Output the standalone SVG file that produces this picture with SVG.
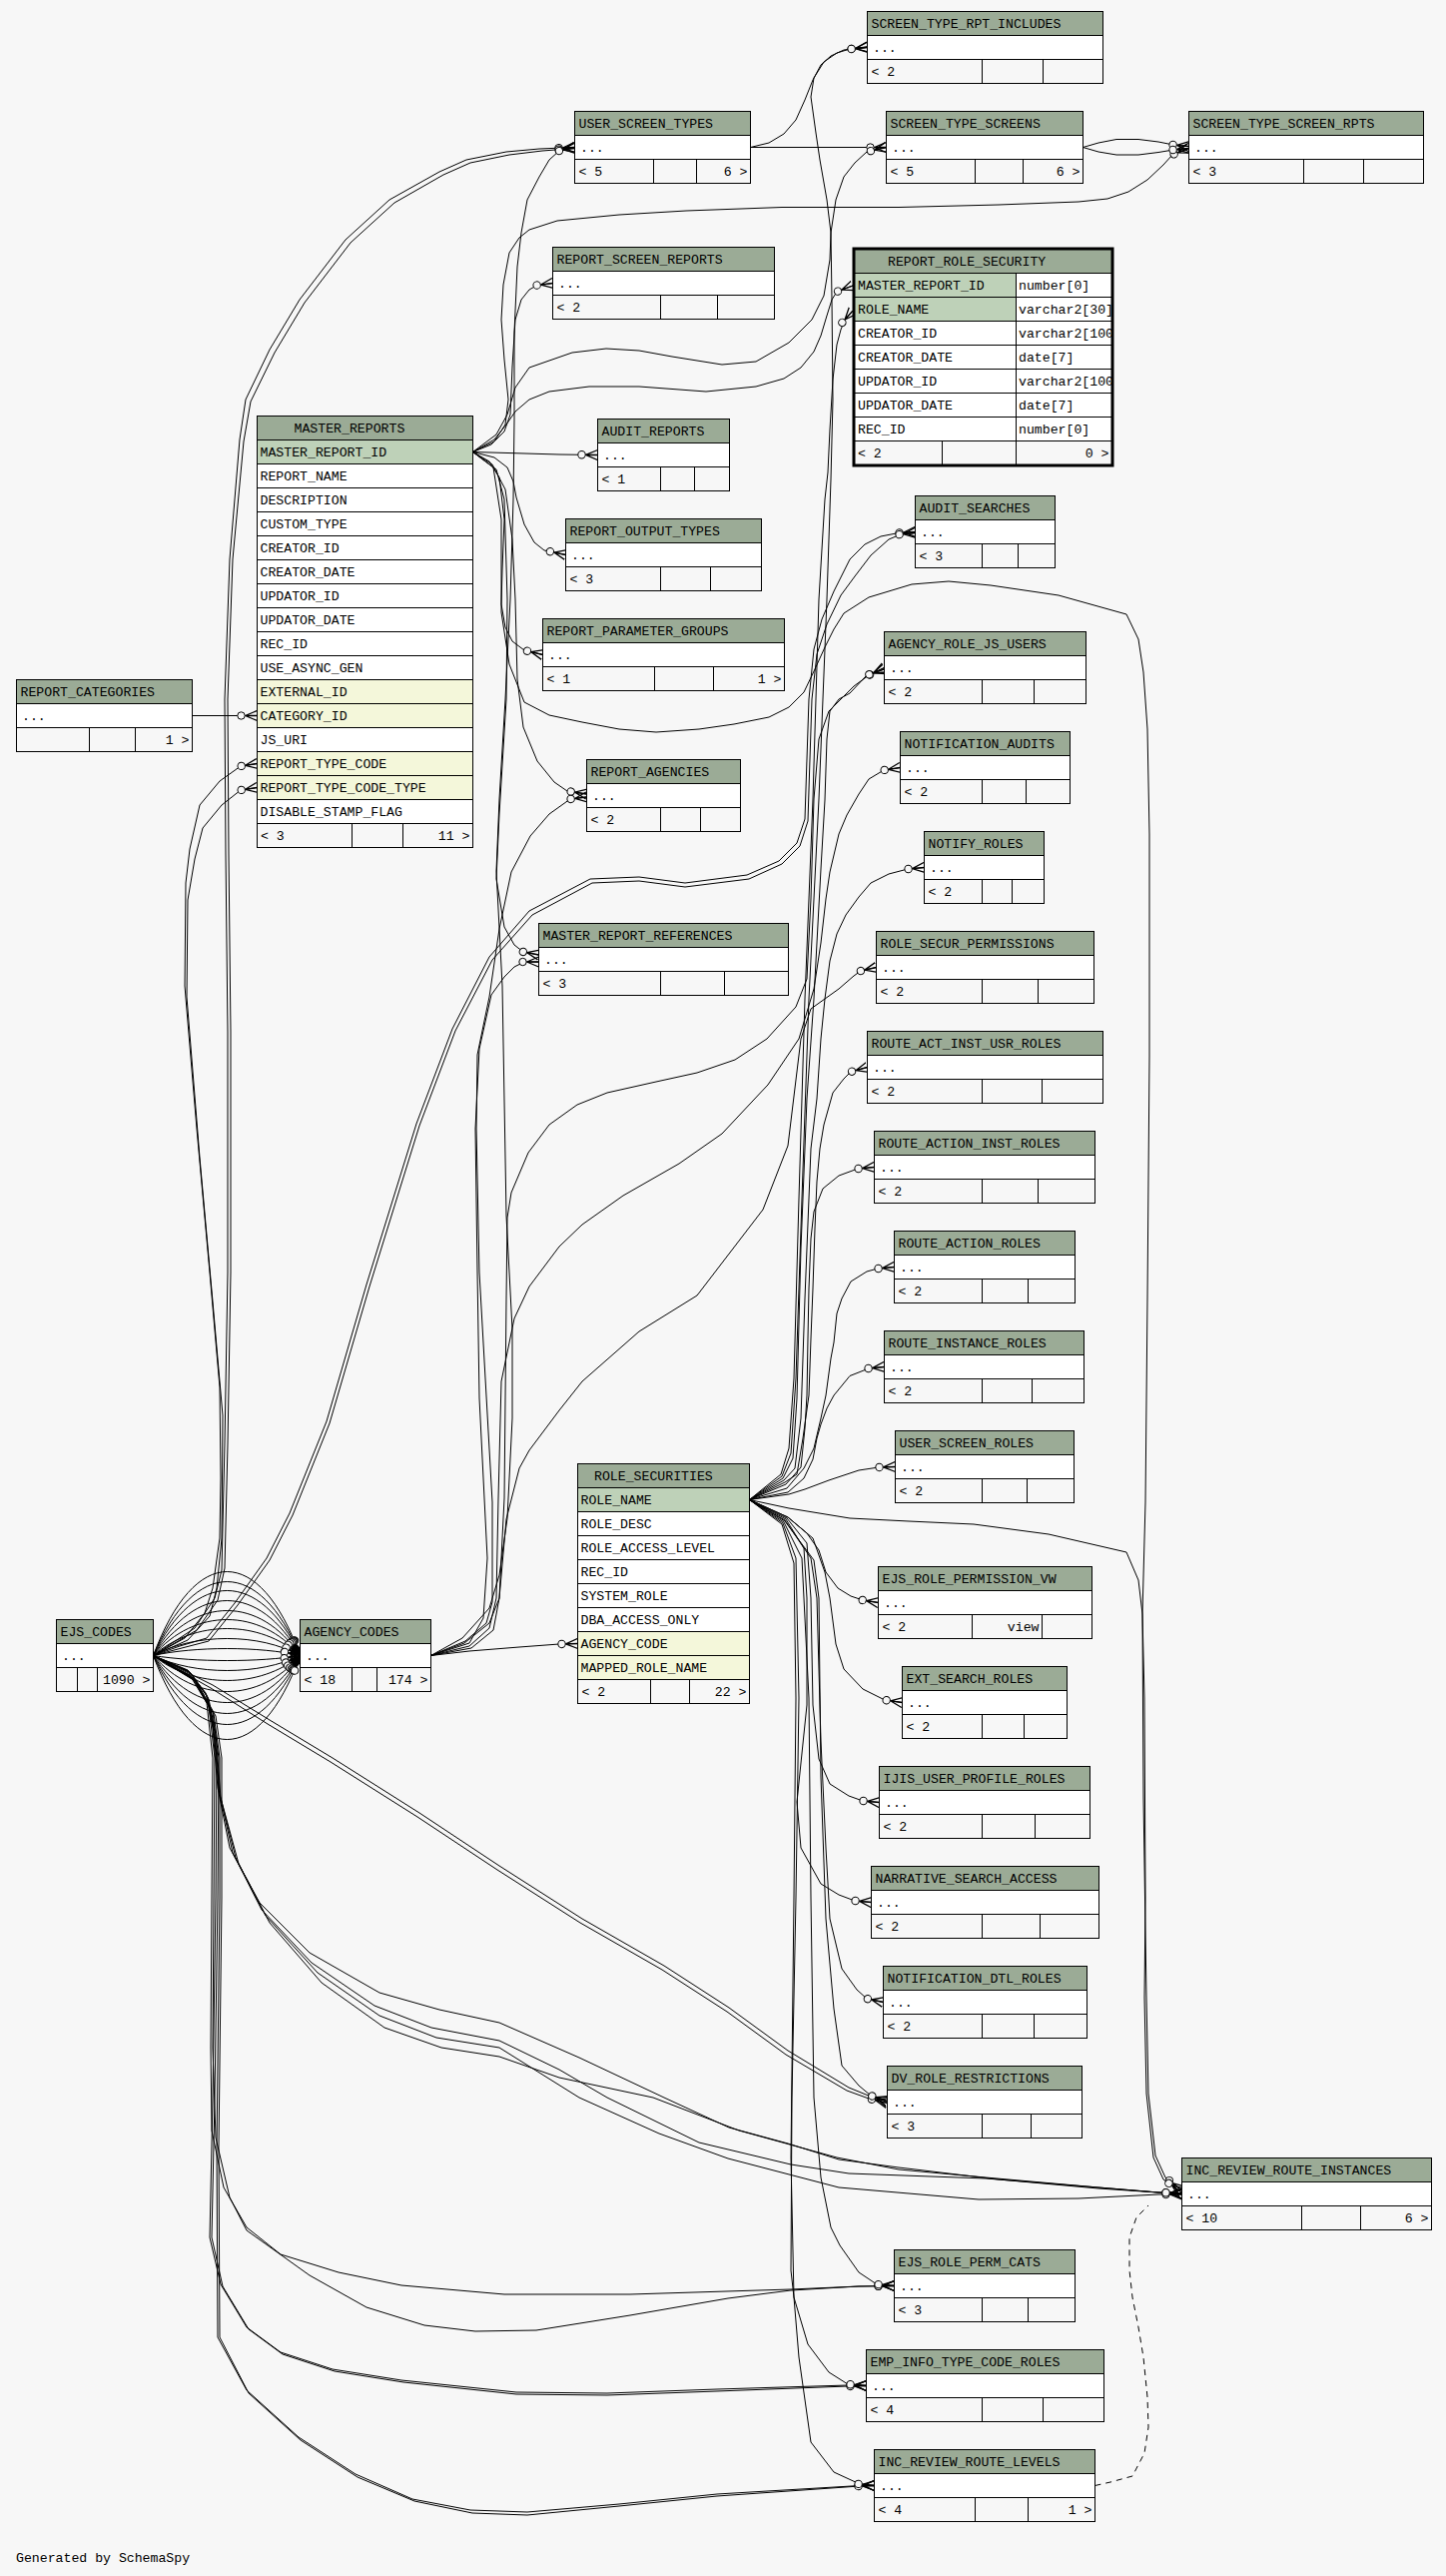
<svg xmlns="http://www.w3.org/2000/svg" width="1448" height="2579" viewBox="0 0 1448 2579">
<defs>
<style>
text{font-family:"Liberation Mono","DejaVu Sans Mono",monospace;font-size:13.2px;fill:#000}
.r{text-anchor:end}
.h{fill:#9bab96}
.w{fill:#fff}
.f{fill:#f7f7f7}
.pk{fill:#bed1b8}
.fk{fill:#f4f7da}
.b{fill:none;stroke:#000;stroke-width:1}
.l{fill:none;stroke:#000;stroke-width:1}
.e{fill:none;stroke:#000;stroke-width:1;marker-end:url(#cf)}
.d{fill:none;stroke:#000;stroke-width:1;stroke-dasharray:6,5}
</style>
<marker id="cf" viewBox="0 0 22 12" refX="22" refY="6" markerWidth="22" markerHeight="12" markerUnits="userSpaceOnUse" orient="auto">
<path d="M10,6L22,1M10,6L22,6M10,6L22,11" fill="none" stroke="#000" stroke-width="1.3"/>
<circle cx="6" cy="6" r="3.7" fill="#f7f7f7" stroke="#000" stroke-width="1"/>
</marker>
<clipPath id="rrsclip"><rect x="856" y="249" width="257.5" height="217"/></clipPath>
</defs>
<rect width="1448" height="2579" fill="#f7f7f7"/>
<g id="connectors">
<path class="e" d="M473.5,452.5L560,455L598.5,455.5"/>
<path class="e" d="M473.5,452.5L492,445L505,432L511,415L513,367L516,320L522,300L530,290L538,285.5L553.5,283.5"/>
<path class="e" d="M473.5,452.5L495,458L508,468L514,482L517,498L525,525L535,543L545,551L566.5,555.5"/>
<path class="e" d="M473.5,452.5L490,462L500,478L505,520L503,570L502,605L506,628L513,642L525,651L543.5,655.5"/>
<path class="e" d="M473.5,452.5L493,465L506,490L513,540L516,600L518,680L524,728L538,762L555,783L568,792L587.5,795"/>
<path class="e" d="M473.5,452.5L497,470L505,500L508,600L507,700L500,815L497,880L505,928L515,946L524,953L539.5,956"/>
<path class="e" d="M473.5,452.5L494,468L502,520L502,613L510,665L525,703L550,716L583,723L620,730L657,733L700,730L735,725L770,718L790,708L805,693L816,670L826,648L835,630L845,614L870,598L913,585L950,582L992,586L1060,596L1128,615L1140,640L1145,673L1149,730L1151,835L1151,1058L1149,1300L1147,1504L1144,1616L1145,1800L1148,2000L1150,2096L1157,2158L1167,2180L1183.5,2193"/>
<path class="e" d="M473.5,452.5L495,440L507,425L516,412L530,400L550,392L590,387L640,387L707,392L757,387L785,379L802,368L815,352L822,336L828,316L833,300L838,292L854,286"/>
<path class="e" d="M473.5,452.5L497,435L508,415L516,388L530,368L573,353L607,349L640,351L673,357L723,365L757,362L790,343L813,320L825,296L831,260L832,233L828,200L821,160L817,133L812,97L815,78L825,62L838,53L851,49L868.5,47.5"/>
<path class="e" d="M473.5,452.5L495,442L506,425L509,400L505,360L502,320L504,285L510,253L520,238L530,230L558,221L620,215L687,211L783,207.5L900,207.5L1000,205L1080,202L1109,199L1130,192L1149,180L1165,165L1174,155L1190.5,148.5"/>
<path class="e" d="M751.5,147.5L887.5,147.5"/>
<path class="e" d="M751.5,147.5L770,143L785,134L797,120L806,100L814,80L822,65L832,56L845,50L868.5,47"/>
<path class="e" d="M1084.5,147.5L1100,143L1118,139.5L1140,139.5L1160,142L1175,145L1190.5,146.5"/>
<path class="e" d="M1084.5,147.5L1100,152L1118,155L1140,155L1160,152.5L1175,150L1190.5,148.5"/>
<path class="e" d="M192.5,716.5L257.5,716.5"/>
<path class="e" d="M153.5,1657.5C195,1545.5 260,1545.5 300.5,1657.5"/>
<path class="e" d="M153.5,1657.5C195,1558.9 260,1558.9 300.5,1657.5"/>
<path class="e" d="M153.5,1657.5C195,1570.8 260,1570.8 300.5,1657.5"/>
<path class="e" d="M153.5,1657.5C195,1584.2 260,1584.2 300.5,1657.5"/>
<path class="e" d="M153.5,1657.5C195,1597.5 260,1597.5 300.5,1657.5"/>
<path class="e" d="M153.5,1657.5C195,1609.5 260,1609.5 300.5,1657.5"/>
<path class="e" d="M153.5,1657.5C195,1621.5 260,1621.5 300.5,1657.5"/>
<path class="e" d="M153.5,1657.5C195,1634.8 260,1634.8 300.5,1657.5"/>
<path class="e" d="M153.5,1657.5C195,1648.2 260,1648.2 300.5,1657.5"/>
<path class="e" d="M153.5,1657.5C195,1664.2 260,1664.2 300.5,1657.5"/>
<path class="e" d="M153.5,1657.5C195,1677.5 260,1677.5 300.5,1657.5"/>
<path class="e" d="M153.5,1657.5C195,1690.8 260,1690.8 300.5,1657.5"/>
<path class="e" d="M153.5,1657.5C195,1705.5 260,1705.5 300.5,1657.5"/>
<path class="e" d="M153.5,1657.5C195,1720.2 260,1720.2 300.5,1657.5"/>
<path class="e" d="M153.5,1657.5C195,1734.8 260,1734.8 300.5,1657.5"/>
<path class="e" d="M153.5,1657.5C195,1749.5 260,1749.5 300.5,1657.5"/>
<path class="e" d="M153.5,1657.5C195,1769.5 260,1769.5 300.5,1657.5"/>
<path class="e" d="M153.5,1657.5L185,1640L205,1615L213,1590L220,1540L221,1480L220,1389L210,1274L197,1130L185,987L186,884L190,850L200,806L220,782L241,767L257.5,764.5"/>
<path class="e" d="M153.5,1657.5L188,1642L210,1618L217,1590L222,1540L223,1417L213,1303L200,1159L187,998L188,901L195,860L203,829L222,806L241,791L257.5,788.5"/>
<path class="e" d="M153.5,1657.5L195,1630L215,1600L222,1572L225,1446L228,1274L228,1033L226,855L225,700L230,560L240,440L246,400L270,350L300,300L346,240L390,200L440,172L467,160L507,152L540,149L575.5,147.5"/>
<path class="e" d="M153.5,1657.5L197,1632L218,1602L225,1570L228,1446L231,1274L231,1033L229,855L228,700L233,560L244,442L251,402L275,353L305,303L351,243L395,203L444,175L471,163L510,155L543,151L575.5,148.5"/>
<path class="e" d="M153.5,1657.5L213,1687L270,1722L333,1760L420,1815L500,1868L583,1921L665,1968L730,2010L789,2053L850,2090L872,2099L888.5,2104"/>
<path class="e" d="M153.5,1657.5L211,1690L268,1726L331,1764L418,1819L498,1872L581,1925L663,1972L728,2014L787,2057L848,2093L870,2101L888.5,2105.5"/>
<path class="e" d="M153.5,1657.5L188,1672L206,1695L213,1730L218,1790L230,1850L260,1905L310,1955L380,1995L440,2012L500,2025L580,2060L665,2100L730,2130L789,2146L840,2162L900,2170L1000,2182L1100,2191L1160,2195L1183.5,2196"/>
<path class="e" d="M153.5,1657.5L189,1673L207,1697L214,1732L219,1792L233,1855L262,1912L312,1965L375,2008L432,2030L500,2043L560,2072L608,2100L700,2145L792,2167L850,2176L987,2181L1100,2190L1160,2195L1183.5,2196"/>
<path class="e" d="M153.5,1657.5L190,1674L208,1699L215,1734L220,1796L236,1860L266,1918L318,1975L380,2018L437,2040L500,2050L580,2100L660,2136L729,2161L840,2190L980,2202L1080,2201L1160,2197L1183.5,2197"/>
<path class="e" d="M153.5,1657.5L191,1675L209,1701L216,1736L221,1800L239,1866L270,1925L322,1985L385,2030L442,2050L500,2059L560,2080L654,2100L740,2133L838,2160L900,2172L987,2180L1100,2190L1160,2195L1183.5,2196"/>
<path class="e" d="M153.5,1657.5L190,1677L207,1705L213,1760L212,1900L211,2050L212,2133L224,2190L247,2230L281,2257L339,2275L402,2288L505,2297L631,2297L792,2292L860,2289L895.5,2288.5"/>
<path class="e" d="M153.5,1657.5L192,1679L209,1708L215,1760L214,1900L213,2050L216,2140L230,2200L247,2233L310,2278L367,2310L425,2328L476,2334L537,2333L631,2318L729,2301L792,2293L860,2289L895.5,2288.5"/>
<path class="e" d="M153.5,1657.5L194,1681L211,1712L217,1760L216,1900L213,2100L210,2240L221,2287L247,2330L281,2355L333,2372L402,2383L517,2395L608,2396L718,2392L849,2388L867.5,2388.5"/>
<path class="e" d="M153.5,1657.5L195,1682L213,1714L219,1760L218,1900L215,2100L212,2240L223,2289L249,2332L283,2357L335,2374L404,2385L517,2397L608,2398L718,2394L849,2389L867.5,2388.5"/>
<path class="e" d="M153.5,1657.5L196,1683L214,1716L220,1760L220,1900L217,2150L218,2340L247,2393L299,2440L356,2477L413,2502L471,2513L528,2515L620,2507L718,2497L861,2488.5L875.5,2488.5"/>
<path class="e" d="M153.5,1657.5L197,1684L216,1718L222,1760L222,1900L219,2150L220,2340L249,2396L301,2443L358,2480L415,2504L473,2516L528,2518L620,2509L718,2499L861,2489L875.5,2488.5"/>
<path class="e" d="M153.5,1657.5L180,1648L207,1640L235,1605L267,1560L290,1515L327,1423L367,1286L417,1125L453,1030L490,958L530,912L591,880L640,878L686,884L748,876L780,862L798,844L806,820L808,760L810,700L815,650L823,620L835,592L851,560L866,545L882,537L900,533.5L916.5,532.5"/>
<path class="e" d="M153.5,1657.5L182,1650L209,1643L238,1607L270,1562L293,1517L330,1425L370,1288L420,1127L456,1032L493,961L533,916L593,884L640,882L686,888L750,880L783,865L801,847L809,822L811,760L813,700L818,655L828,625L842,596L856,577L872,556L890,540L902,535L916.5,533.5"/>
<path class="e" d="M431.5,1657.5L470,1653L520,1649L560,1646L578.5,1645.5"/>
<path class="e" d="M431.5,1657.5L463,1640L490,1610L500,1577L508,1520L513,1420L513,1331L507,1217L503,987L497,872L500,800L506,700L511,600L514,500L515,420L515,333L518,267L522,233L528,200L540,177L550,160L560,151L575.5,147.5"/>
<path class="e" d="M431.5,1657.5L466,1643L487,1625L493,1604L493,1504L480,1274L477,1130L478,1056L490,998L500,930L512,873L531,837L550,815L571,800L587.5,798"/>
<path class="e" d="M431.5,1657.5L470,1645L484,1620L488,1560L480,1400L478,1274L476,1130L480,1050L492,996L505,978L515,968L525,963L539.5,963"/>
<path class="e" d="M431.5,1657.5L465,1645L490,1625L500,1600L505,1500L507,1300L508,1219L512,1194L529,1154L550,1126L578,1106L608,1094L657,1083L698,1074L736,1061L768,1040L797,1008L808,980L812,900L815,800L820,740L830,712L855,687L870,676L885.5,668.5"/>
<path class="e" d="M431.5,1657.5L470,1648L490,1630L497,1600L499,1500L502,1383L515,1320L530,1288L560,1248L583,1226L624,1197L680,1165L723,1135L769,1086L800,1040L815,990L822,944L827,900L831,873L840,835L848,816L860,795L870,780L885,771L901.5,768.5"/>
<path class="e" d="M431.5,1657.5L472,1650L494,1632L500,1600L507,1521L520,1470L530,1452L560,1412L583,1383L640,1333L698,1297L731,1254L764,1211L789,1147L802,1040L812,1010L826,1000L840,990L855,977L862,972L877.5,968.5"/>
<path class="e" d="M750.5,1501.5L790,1496L806,1491L830,1482L860,1472L880,1469L896.5,1468.5"/>
<path class="e" d="M750.5,1501.5L789,1494L805,1480L814,1461L818,1440L822,1426L828,1410L835,1397L851,1377.5L870,1370L885.5,1368.5"/>
<path class="e" d="M750.5,1501.5L788,1490L805,1470L815,1450L822,1420L827,1397L832,1360L835,1344L838,1315L843,1300L852,1283L868,1273L879,1270L895.5,1268.5"/>
<path class="e" d="M750.5,1501.5L787,1486L802,1469L806,1430L808,1397L809,1340L810,1290L812,1240L815,1213L824,1190L840,1177L859,1170L875.5,1168.5"/>
<path class="e" d="M750.5,1501.5L786,1484L798,1476L804,1440L810,1397L812,1340L814,1290L816,1230L818,1183L821,1150L825,1126L834,1094L845,1080L852,1073L868.5,1068.5"/>
<path class="e" d="M750.5,1501.5L785,1482L796,1470L802,1420L806,1300L812,1150L818,1100L822,1040L826,1000L831,962L838,935L847,916L860,898L872,884L890,875L909,870L925.5,868.5"/>
<path class="e" d="M750.5,1501.5L784,1480L794,1460L798,1400L802,1250L808,1100L815,1000L818,944L822,870L826,801L828,740L831,712L840,700L851,694L868,676L885.5,670"/>
<path class="e" d="M750.5,1501.5L783,1478L792,1455L797,1380L803,1200L810,1000L820,800L828,600L832,480L834,400L833,300L832,233L837,200L845,177L856,163L868,152L887.5,147.5"/>
<path class="e" d="M750.5,1501.5L782,1476L790,1450L795,1380L800,1200L806,1000L814,800L820,600L826,500L829,473L831,430L834,380L838,345L842,330L846,320L854,311"/>
<path class="e" d="M750.5,1501.5L789,1519L808,1535L820,1552L827,1574L839,1590L852,1598L864,1602L879.5,1604.5"/>
<path class="e" d="M750.5,1501.5L789,1519L814,1540L826,1574L831,1600L837,1646L845,1671L864,1691L886,1702L903.5,1704.5"/>
<path class="e" d="M750.5,1501.5L788,1520L808,1545L812,1600L814,1707L820,1761L831,1786L850,1798L864,1803L880.5,1804.5"/>
<path class="e" d="M750.5,1501.5L787,1521L805,1550L808,1600L808,1707L798,1804L802,1850L822,1886L840,1897L856,1903L872.5,1904.5"/>
<path class="e" d="M750.5,1501.5L786,1522L812,1560L818,1600L822,1743L827,1850L831,1921L843,1971L858,1992L868,2001L884.5,2004.5"/>
<path class="e" d="M750.5,1501.5L786,1523L815,1562L820,1600L822,1779L827,1921L835,2011L843,2068L860,2088L872,2098L888.5,2103.5"/>
<path class="e" d="M750.5,1501.5L785,1524L803,1560L810,1700L812,1900L815,2100L822,2180L832,2230L841,2248L860,2275L878,2287L895.5,2288.5"/>
<path class="e" d="M750.5,1501.5L784,1525L797,1560L800,1700L797,1900L793,2100L792,2273L795,2300L809,2347L830,2375L849,2387L867.5,2388.5"/>
<path class="e" d="M750.5,1501.5L783,1526L795,1565L797,1700L795,1900L792,2160L795,2300L800,2360L812,2445L835,2475L861,2487L875.5,2488.5"/>
<path class="e" d="M750.5,1501.5L790,1510L851,1520L910,1523L975,1526L1050,1536L1128,1554L1140,1582L1144,1616L1146,1700L1147,1900L1146,2000L1148,2096L1155,2160L1165,2182L1183.5,2195"/>
<path class="d" d="M1096.5,2488.5L1112,2485L1134,2479L1146,2456L1150,2430L1149,2400L1145,2360L1140,2330L1134,2300L1131,2273L1131,2240L1138,2220L1150,2208"/>
</g>
<g id="SCREEN_TYPE_RPT_INCLUDES"><rect class="h" x="868.5" y="11.5" width="236" height="24"/><rect class="w" x="868.5" y="35.5" width="236" height="24"/><rect class="f" x="868.5" y="59.5" width="236" height="24"/><path class="l" d="M868.5,35.5H1104.5M868.5,59.5H1104.5M983.5,59.5V83.5M1044.5,59.5V83.5"/><rect class="b" x="868.5" y="11.5" width="236" height="72"/><text x="872.5" y="27.5">SCREEN_TYPE_RPT_INCLUDES</text><text x="874" y="51.5">...</text><text x="872.5" y="75.5">&lt; 2</text></g>
<g id="USER_SCREEN_TYPES"><rect class="h" x="575.5" y="111.5" width="176" height="24"/><rect class="w" x="575.5" y="135.5" width="176" height="24"/><rect class="f" x="575.5" y="159.5" width="176" height="24"/><path class="l" d="M575.5,135.5H751.5M575.5,159.5H751.5M654.5,159.5V183.5M697.5,159.5V183.5"/><rect class="b" x="575.5" y="111.5" width="176" height="72"/><text x="579.5" y="127.5">USER_SCREEN_TYPES</text><text x="581" y="151.5">...</text><text x="579.5" y="175.5">&lt; 5</text><text class="r" x="748.5" y="175.5">6 &gt;</text></g>
<g id="SCREEN_TYPE_SCREENS"><rect class="h" x="887.5" y="111.5" width="197" height="24"/><rect class="w" x="887.5" y="135.5" width="197" height="24"/><rect class="f" x="887.5" y="159.5" width="197" height="24"/><path class="l" d="M887.5,135.5H1084.5M887.5,159.5H1084.5M976.5,159.5V183.5M1024.5,159.5V183.5"/><rect class="b" x="887.5" y="111.5" width="197" height="72"/><text x="891.5" y="127.5">SCREEN_TYPE_SCREENS</text><text x="893" y="151.5">...</text><text x="891.5" y="175.5">&lt; 5</text><text class="r" x="1081.5" y="175.5">6 &gt;</text></g>
<g id="SCREEN_TYPE_SCREEN_RPTS"><rect class="h" x="1190.5" y="111.5" width="235" height="24"/><rect class="w" x="1190.5" y="135.5" width="235" height="24"/><rect class="f" x="1190.5" y="159.5" width="235" height="24"/><path class="l" d="M1190.5,135.5H1425.5M1190.5,159.5H1425.5M1305.5,159.5V183.5M1365.5,159.5V183.5"/><rect class="b" x="1190.5" y="111.5" width="235" height="72"/><text x="1194.5" y="127.5">SCREEN_TYPE_SCREEN_RPTS</text><text x="1196" y="151.5">...</text><text x="1194.5" y="175.5">&lt; 3</text></g>
<g id="REPORT_SCREEN_REPORTS"><rect class="h" x="553.5" y="247.5" width="222" height="24"/><rect class="w" x="553.5" y="271.5" width="222" height="24"/><rect class="f" x="553.5" y="295.5" width="222" height="24"/><path class="l" d="M553.5,271.5H775.5M553.5,295.5H775.5M661.5,295.5V319.5M718.5,295.5V319.5"/><rect class="b" x="553.5" y="247.5" width="222" height="72"/><text x="557.5" y="263.5">REPORT_SCREEN_REPORTS</text><text x="559" y="287.5">...</text><text x="557.5" y="311.5">&lt; 2</text></g>
<g id="REPORT_ROLE_SECURITY"><rect class="h" x="855.5" y="249.5" width="259" height="24"/><rect class="w" x="855.5" y="273.5" width="259" height="168"/><rect class="pk" x="855.5" y="273.5" width="162" height="48"/><rect class="f" x="855.5" y="441.5" width="259" height="24"/><path class="l" d="M855.5,273.5H1114.5M855.5,297.5H1114.5M855.5,321.5H1114.5M855.5,345.5H1114.5M855.5,369.5H1114.5M855.5,393.5H1114.5M855.5,417.5H1114.5M855.5,441.5H1114.5M1017.5,273.5V465.5M943.5,441.5V465.5"/><text x="889" y="265.5">REPORT_ROLE_SECURITY</text><text x="859" y="289.5">MASTER_REPORT_ID</text><text x="859" y="313.5">ROLE_NAME</text><text x="859" y="337.5">CREATOR_ID</text><text x="859" y="361.5">CREATOR_DATE</text><text x="859" y="385.5">UPDATOR_ID</text><text x="859" y="409.5">UPDATOR_DATE</text><text x="859" y="433.5">REC_ID</text><g clip-path="url(#rrsclip)"><text x="1020" y="289.5">number[0]</text><text x="1020" y="313.5">varchar2[30]</text><text x="1020" y="337.5">varchar2[100]</text><text x="1020" y="361.5">date[7]</text><text x="1020" y="385.5">varchar2[100]</text><text x="1020" y="409.5">date[7]</text><text x="1020" y="433.5">number[0]</text></g><text x="859" y="457.5">&lt; 2</text><text class="r" x="1110.5" y="457.5">0 &gt;</text><rect x="855" y="249" width="259" height="217" fill="none" stroke="#000" stroke-width="3"/></g>
<g id="MASTER_REPORTS"><rect class="h" x="257.5" y="416.5" width="216" height="24"/><rect class="w" x="257.5" y="440.5" width="216" height="384"/><rect class="pk" x="257.5" y="440.5" width="216" height="24"/><rect class="fk" x="257.5" y="680.5" width="216" height="48"/><rect class="fk" x="257.5" y="752.5" width="216" height="48"/><rect class="f" x="257.5" y="824.5" width="216" height="24"/><path class="l" d="M257.5,440.5H473.5M257.5,464.5H473.5M257.5,488.5H473.5M257.5,512.5H473.5M257.5,536.5H473.5M257.5,560.5H473.5M257.5,584.5H473.5M257.5,608.5H473.5M257.5,632.5H473.5M257.5,656.5H473.5M257.5,680.5H473.5M257.5,704.5H473.5M257.5,728.5H473.5M257.5,752.5H473.5M257.5,776.5H473.5M257.5,800.5H473.5M257.5,824.5H473.5M352.5,824.5V848.5M403.5,824.5V848.5"/><rect class="b" x="257.5" y="416.5" width="216" height="432"/><text x="294.5" y="432.5">MASTER_REPORTS</text><text x="260.5" y="456.5">MASTER_REPORT_ID</text><text x="260.5" y="480.5">REPORT_NAME</text><text x="260.5" y="504.5">DESCRIPTION</text><text x="260.5" y="528.5">CUSTOM_TYPE</text><text x="260.5" y="552.5">CREATOR_ID</text><text x="260.5" y="576.5">CREATOR_DATE</text><text x="260.5" y="600.5">UPDATOR_ID</text><text x="260.5" y="624.5">UPDATOR_DATE</text><text x="260.5" y="648.5">REC_ID</text><text x="260.5" y="672.5">USE_ASYNC_GEN</text><text x="260.5" y="696.5">EXTERNAL_ID</text><text x="260.5" y="720.5">CATEGORY_ID</text><text x="260.5" y="744.5">JS_URI</text><text x="260.5" y="768.5">REPORT_TYPE_CODE</text><text x="260.5" y="792.5">REPORT_TYPE_CODE_TYPE</text><text x="260.5" y="816.5">DISABLE_STAMP_FLAG</text><text x="261" y="840.5">&lt; 3</text><text class="r" x="470.5" y="840.5">11 &gt;</text></g>
<g id="AUDIT_REPORTS"><rect class="h" x="598.5" y="419.5" width="132" height="24"/><rect class="w" x="598.5" y="443.5" width="132" height="24"/><rect class="f" x="598.5" y="467.5" width="132" height="24"/><path class="l" d="M598.5,443.5H730.5M598.5,467.5H730.5M661.5,467.5V491.5M695.5,467.5V491.5"/><rect class="b" x="598.5" y="419.5" width="132" height="72"/><text x="602.5" y="435.5">AUDIT_REPORTS</text><text x="604" y="459.5">...</text><text x="602.5" y="483.5">&lt; 1</text></g>
<g id="REPORT_OUTPUT_TYPES"><rect class="h" x="566.5" y="519.5" width="196" height="24"/><rect class="w" x="566.5" y="543.5" width="196" height="24"/><rect class="f" x="566.5" y="567.5" width="196" height="24"/><path class="l" d="M566.5,543.5H762.5M566.5,567.5H762.5M661.5,567.5V591.5M711.5,567.5V591.5"/><rect class="b" x="566.5" y="519.5" width="196" height="72"/><text x="570.5" y="535.5">REPORT_OUTPUT_TYPES</text><text x="572" y="559.5">...</text><text x="570.5" y="583.5">&lt; 3</text></g>
<g id="REPORT_PARAMETER_GROUPS"><rect class="h" x="543.5" y="619.5" width="242" height="24"/><rect class="w" x="543.5" y="643.5" width="242" height="24"/><rect class="f" x="543.5" y="667.5" width="242" height="24"/><path class="l" d="M543.5,643.5H785.5M543.5,667.5H785.5M655.5,667.5V691.5M714.5,667.5V691.5"/><rect class="b" x="543.5" y="619.5" width="242" height="72"/><text x="547.5" y="635.5">REPORT_PARAMETER_GROUPS</text><text x="549" y="659.5">...</text><text x="547.5" y="683.5">&lt; 1</text><text class="r" x="782.5" y="683.5">1 &gt;</text></g>
<g id="REPORT_CATEGORIES"><rect class="h" x="16.5" y="680.5" width="176" height="24"/><rect class="w" x="16.5" y="704.5" width="176" height="24"/><rect class="f" x="16.5" y="728.5" width="176" height="24"/><path class="l" d="M16.5,704.5H192.5M16.5,728.5H192.5M89.5,728.5V752.5M135.5,728.5V752.5"/><rect class="b" x="16.5" y="680.5" width="176" height="72"/><text x="20.5" y="696.5">REPORT_CATEGORIES</text><text x="22" y="720.5">...</text><text class="r" x="189.5" y="744.5">1 &gt;</text></g>
<g id="REPORT_AGENCIES"><rect class="h" x="587.5" y="760.5" width="154" height="24"/><rect class="w" x="587.5" y="784.5" width="154" height="24"/><rect class="f" x="587.5" y="808.5" width="154" height="24"/><path class="l" d="M587.5,784.5H741.5M587.5,808.5H741.5M661.5,808.5V832.5M701.5,808.5V832.5"/><rect class="b" x="587.5" y="760.5" width="154" height="72"/><text x="591.5" y="776.5">REPORT_AGENCIES</text><text x="593" y="800.5">...</text><text x="591.5" y="824.5">&lt; 2</text></g>
<g id="AUDIT_SEARCHES"><rect class="h" x="916.5" y="496.5" width="140" height="24"/><rect class="w" x="916.5" y="520.5" width="140" height="24"/><rect class="f" x="916.5" y="544.5" width="140" height="24"/><path class="l" d="M916.5,520.5H1056.5M916.5,544.5H1056.5M983.5,544.5V568.5M1019.5,544.5V568.5"/><rect class="b" x="916.5" y="496.5" width="140" height="72"/><text x="920.5" y="512.5">AUDIT_SEARCHES</text><text x="922" y="536.5">...</text><text x="920.5" y="560.5">&lt; 3</text></g>
<g id="AGENCY_ROLE_JS_USERS"><rect class="h" x="885.5" y="632.5" width="202" height="24"/><rect class="w" x="885.5" y="656.5" width="202" height="24"/><rect class="f" x="885.5" y="680.5" width="202" height="24"/><path class="l" d="M885.5,656.5H1087.5M885.5,680.5H1087.5M983.5,680.5V704.5M1035.5,680.5V704.5"/><rect class="b" x="885.5" y="632.5" width="202" height="72"/><text x="889.5" y="648.5">AGENCY_ROLE_JS_USERS</text><text x="891" y="672.5">...</text><text x="889.5" y="696.5">&lt; 2</text></g>
<g id="NOTIFICATION_AUDITS"><rect class="h" x="901.5" y="732.5" width="170" height="24"/><rect class="w" x="901.5" y="756.5" width="170" height="24"/><rect class="f" x="901.5" y="780.5" width="170" height="24"/><path class="l" d="M901.5,756.5H1071.5M901.5,780.5H1071.5M983.5,780.5V804.5M1027.5,780.5V804.5"/><rect class="b" x="901.5" y="732.5" width="170" height="72"/><text x="905.5" y="748.5">NOTIFICATION_AUDITS</text><text x="907" y="772.5">...</text><text x="905.5" y="796.5">&lt; 2</text></g>
<g id="NOTIFY_ROLES"><rect class="h" x="925.5" y="832.5" width="120" height="24"/><rect class="w" x="925.5" y="856.5" width="120" height="24"/><rect class="f" x="925.5" y="880.5" width="120" height="24"/><path class="l" d="M925.5,856.5H1045.5M925.5,880.5H1045.5M983.5,880.5V904.5M1013.5,880.5V904.5"/><rect class="b" x="925.5" y="832.5" width="120" height="72"/><text x="929.5" y="848.5">NOTIFY_ROLES</text><text x="931" y="872.5">...</text><text x="929.5" y="896.5">&lt; 2</text></g>
<g id="ROLE_SECUR_PERMISSIONS"><rect class="h" x="877.5" y="932.5" width="218" height="24"/><rect class="w" x="877.5" y="956.5" width="218" height="24"/><rect class="f" x="877.5" y="980.5" width="218" height="24"/><path class="l" d="M877.5,956.5H1095.5M877.5,980.5H1095.5M983.5,980.5V1004.5M1039.5,980.5V1004.5"/><rect class="b" x="877.5" y="932.5" width="218" height="72"/><text x="881.5" y="948.5">ROLE_SECUR_PERMISSIONS</text><text x="883" y="972.5">...</text><text x="881.5" y="996.5">&lt; 2</text></g>
<g id="MASTER_REPORT_REFERENCES"><rect class="h" x="539.5" y="924.5" width="250" height="24"/><rect class="w" x="539.5" y="948.5" width="250" height="24"/><rect class="f" x="539.5" y="972.5" width="250" height="24"/><path class="l" d="M539.5,948.5H789.5M539.5,972.5H789.5M661.5,972.5V996.5M725.5,972.5V996.5"/><rect class="b" x="539.5" y="924.5" width="250" height="72"/><text x="543.5" y="940.5">MASTER_REPORT_REFERENCES</text><text x="545" y="964.5">...</text><text x="543.5" y="988.5">&lt; 3</text></g>
<g id="ROUTE_ACT_INST_USR_ROLES"><rect class="h" x="868.5" y="1032.5" width="236" height="24"/><rect class="w" x="868.5" y="1056.5" width="236" height="24"/><rect class="f" x="868.5" y="1080.5" width="236" height="24"/><path class="l" d="M868.5,1056.5H1104.5M868.5,1080.5H1104.5M983.5,1080.5V1104.5M1043.5,1080.5V1104.5"/><rect class="b" x="868.5" y="1032.5" width="236" height="72"/><text x="872.5" y="1048.5">ROUTE_ACT_INST_USR_ROLES</text><text x="874" y="1072.5">...</text><text x="872.5" y="1096.5">&lt; 2</text></g>
<g id="ROUTE_ACTION_INST_ROLES"><rect class="h" x="875.5" y="1132.5" width="221" height="24"/><rect class="w" x="875.5" y="1156.5" width="221" height="24"/><rect class="f" x="875.5" y="1180.5" width="221" height="24"/><path class="l" d="M875.5,1156.5H1096.5M875.5,1180.5H1096.5M983.5,1180.5V1204.5M1039.5,1180.5V1204.5"/><rect class="b" x="875.5" y="1132.5" width="221" height="72"/><text x="879.5" y="1148.5">ROUTE_ACTION_INST_ROLES</text><text x="881" y="1172.5">...</text><text x="879.5" y="1196.5">&lt; 2</text></g>
<g id="ROUTE_ACTION_ROLES"><rect class="h" x="895.5" y="1232.5" width="181" height="24"/><rect class="w" x="895.5" y="1256.5" width="181" height="24"/><rect class="f" x="895.5" y="1280.5" width="181" height="24"/><path class="l" d="M895.5,1256.5H1076.5M895.5,1280.5H1076.5M983.5,1280.5V1304.5M1029.5,1280.5V1304.5"/><rect class="b" x="895.5" y="1232.5" width="181" height="72"/><text x="899.5" y="1248.5">ROUTE_ACTION_ROLES</text><text x="901" y="1272.5">...</text><text x="899.5" y="1296.5">&lt; 2</text></g>
<g id="ROUTE_INSTANCE_ROLES"><rect class="h" x="885.5" y="1332.5" width="200" height="24"/><rect class="w" x="885.5" y="1356.5" width="200" height="24"/><rect class="f" x="885.5" y="1380.5" width="200" height="24"/><path class="l" d="M885.5,1356.5H1085.5M885.5,1380.5H1085.5M983.5,1380.5V1404.5M1033.5,1380.5V1404.5"/><rect class="b" x="885.5" y="1332.5" width="200" height="72"/><text x="889.5" y="1348.5">ROUTE_INSTANCE_ROLES</text><text x="891" y="1372.5">...</text><text x="889.5" y="1396.5">&lt; 2</text></g>
<g id="USER_SCREEN_ROLES"><rect class="h" x="896.5" y="1432.5" width="179" height="24"/><rect class="w" x="896.5" y="1456.5" width="179" height="24"/><rect class="f" x="896.5" y="1480.5" width="179" height="24"/><path class="l" d="M896.5,1456.5H1075.5M896.5,1480.5H1075.5M983.5,1480.5V1504.5M1028.5,1480.5V1504.5"/><rect class="b" x="896.5" y="1432.5" width="179" height="72"/><text x="900.5" y="1448.5">USER_SCREEN_ROLES</text><text x="902" y="1472.5">...</text><text x="900.5" y="1496.5">&lt; 2</text></g>
<g id="ROLE_SECURITIES"><rect class="h" x="578.5" y="1465.5" width="172" height="24"/><rect class="w" x="578.5" y="1489.5" width="172" height="192"/><rect class="pk" x="578.5" y="1489.5" width="172" height="24"/><rect class="fk" x="578.5" y="1633.5" width="172" height="48"/><rect class="f" x="578.5" y="1681.5" width="172" height="24"/><path class="l" d="M578.5,1489.5H750.5M578.5,1513.5H750.5M578.5,1537.5H750.5M578.5,1561.5H750.5M578.5,1585.5H750.5M578.5,1609.5H750.5M578.5,1633.5H750.5M578.5,1657.5H750.5M578.5,1681.5H750.5M651.5,1681.5V1705.5M690.5,1681.5V1705.5"/><rect class="b" x="578.5" y="1465.5" width="172" height="240"/><text x="595" y="1481.5">ROLE_SECURITIES</text><text x="581.5" y="1505.5">ROLE_NAME</text><text x="581.5" y="1529.5">ROLE_DESC</text><text x="581.5" y="1553.5">ROLE_ACCESS_LEVEL</text><text x="581.5" y="1577.5">REC_ID</text><text x="581.5" y="1601.5">SYSTEM_ROLE</text><text x="581.5" y="1625.5">DBA_ACCESS_ONLY</text><text x="581.5" y="1649.5">AGENCY_CODE</text><text x="581.5" y="1673.5">MAPPED_ROLE_NAME</text><text x="582.5" y="1697.5">&lt; 2</text><text class="r" x="747.5" y="1697.5">22 &gt;</text></g>
<g id="EJS_ROLE_PERMISSION_VW"><rect class="h" x="879.5" y="1568.5" width="214" height="24"/><rect class="w" x="879.5" y="1592.5" width="214" height="24"/><rect class="f" x="879.5" y="1616.5" width="214" height="24"/><path class="l" d="M879.5,1592.5H1093.5M879.5,1616.5H1093.5M973.5,1616.5V1640.5M1043.5,1616.5V1640.5"/><rect class="b" x="879.5" y="1568.5" width="214" height="72"/><text x="883.5" y="1584.5">EJS_ROLE_PERMISSION_VW</text><text x="885" y="1608.5">...</text><text x="883.5" y="1632.5">&lt; 2</text><text class="r" x="1040.5" y="1632.5">view</text></g>
<g id="EXT_SEARCH_ROLES"><rect class="h" x="903.5" y="1668.5" width="165" height="24"/><rect class="w" x="903.5" y="1692.5" width="165" height="24"/><rect class="f" x="903.5" y="1716.5" width="165" height="24"/><path class="l" d="M903.5,1692.5H1068.5M903.5,1716.5H1068.5M983.5,1716.5V1740.5M1025.5,1716.5V1740.5"/><rect class="b" x="903.5" y="1668.5" width="165" height="72"/><text x="907.5" y="1684.5">EXT_SEARCH_ROLES</text><text x="909" y="1708.5">...</text><text x="907.5" y="1732.5">&lt; 2</text></g>
<g id="IJIS_USER_PROFILE_ROLES"><rect class="h" x="880.5" y="1768.5" width="211" height="24"/><rect class="w" x="880.5" y="1792.5" width="211" height="24"/><rect class="f" x="880.5" y="1816.5" width="211" height="24"/><path class="l" d="M880.5,1792.5H1091.5M880.5,1816.5H1091.5M983.5,1816.5V1840.5M1036.5,1816.5V1840.5"/><rect class="b" x="880.5" y="1768.5" width="211" height="72"/><text x="884.5" y="1784.5">IJIS_USER_PROFILE_ROLES</text><text x="886" y="1808.5">...</text><text x="884.5" y="1832.5">&lt; 2</text></g>
<g id="NARRATIVE_SEARCH_ACCESS"><rect class="h" x="872.5" y="1868.5" width="228" height="24"/><rect class="w" x="872.5" y="1892.5" width="228" height="24"/><rect class="f" x="872.5" y="1916.5" width="228" height="24"/><path class="l" d="M872.5,1892.5H1100.5M872.5,1916.5H1100.5M983.5,1916.5V1940.5M1041.5,1916.5V1940.5"/><rect class="b" x="872.5" y="1868.5" width="228" height="72"/><text x="876.5" y="1884.5">NARRATIVE_SEARCH_ACCESS</text><text x="878" y="1908.5">...</text><text x="876.5" y="1932.5">&lt; 2</text></g>
<g id="NOTIFICATION_DTL_ROLES"><rect class="h" x="884.5" y="1968.5" width="204" height="24"/><rect class="w" x="884.5" y="1992.5" width="204" height="24"/><rect class="f" x="884.5" y="2016.5" width="204" height="24"/><path class="l" d="M884.5,1992.5H1088.5M884.5,2016.5H1088.5M983.5,2016.5V2040.5M1035.5,2016.5V2040.5"/><rect class="b" x="884.5" y="1968.5" width="204" height="72"/><text x="888.5" y="1984.5">NOTIFICATION_DTL_ROLES</text><text x="890" y="2008.5">...</text><text x="888.5" y="2032.5">&lt; 2</text></g>
<g id="DV_ROLE_RESTRICTIONS"><rect class="h" x="888.5" y="2068.5" width="195" height="24"/><rect class="w" x="888.5" y="2092.5" width="195" height="24"/><rect class="f" x="888.5" y="2116.5" width="195" height="24"/><path class="l" d="M888.5,2092.5H1083.5M888.5,2116.5H1083.5M983.5,2116.5V2140.5M1032.5,2116.5V2140.5"/><rect class="b" x="888.5" y="2068.5" width="195" height="72"/><text x="892.5" y="2084.5">DV_ROLE_RESTRICTIONS</text><text x="894" y="2108.5">...</text><text x="892.5" y="2132.5">&lt; 3</text></g>
<g id="INC_REVIEW_ROUTE_INSTANCES"><rect class="h" x="1183.5" y="2160.5" width="250" height="24"/><rect class="w" x="1183.5" y="2184.5" width="250" height="24"/><rect class="f" x="1183.5" y="2208.5" width="250" height="24"/><path class="l" d="M1183.5,2184.5H1433.5M1183.5,2208.5H1433.5M1303.5,2208.5V2232.5M1362.5,2208.5V2232.5"/><rect class="b" x="1183.5" y="2160.5" width="250" height="72"/><text x="1187.5" y="2176.5">INC_REVIEW_ROUTE_INSTANCES</text><text x="1189" y="2200.5">...</text><text x="1187.5" y="2224.5">&lt; 10</text><text class="r" x="1430.5" y="2224.5">6 &gt;</text></g>
<g id="EJS_ROLE_PERM_CATS"><rect class="h" x="895.5" y="2252.5" width="181" height="24"/><rect class="w" x="895.5" y="2276.5" width="181" height="24"/><rect class="f" x="895.5" y="2300.5" width="181" height="24"/><path class="l" d="M895.5,2276.5H1076.5M895.5,2300.5H1076.5M983.5,2300.5V2324.5M1029.5,2300.5V2324.5"/><rect class="b" x="895.5" y="2252.5" width="181" height="72"/><text x="899.5" y="2268.5">EJS_ROLE_PERM_CATS</text><text x="901" y="2292.5">...</text><text x="899.5" y="2316.5">&lt; 3</text></g>
<g id="EMP_INFO_TYPE_CODE_ROLES"><rect class="h" x="867.5" y="2352.5" width="238" height="24"/><rect class="w" x="867.5" y="2376.5" width="238" height="24"/><rect class="f" x="867.5" y="2400.5" width="238" height="24"/><path class="l" d="M867.5,2376.5H1105.5M867.5,2400.5H1105.5M983.5,2400.5V2424.5M1044.5,2400.5V2424.5"/><rect class="b" x="867.5" y="2352.5" width="238" height="72"/><text x="871.5" y="2368.5">EMP_INFO_TYPE_CODE_ROLES</text><text x="873" y="2392.5">...</text><text x="871.5" y="2416.5">&lt; 4</text></g>
<g id="INC_REVIEW_ROUTE_LEVELS"><rect class="h" x="875.5" y="2452.5" width="221" height="24"/><rect class="w" x="875.5" y="2476.5" width="221" height="24"/><rect class="f" x="875.5" y="2500.5" width="221" height="24"/><path class="l" d="M875.5,2476.5H1096.5M875.5,2500.5H1096.5M976.5,2500.5V2524.5M1029.5,2500.5V2524.5"/><rect class="b" x="875.5" y="2452.5" width="221" height="72"/><text x="879.5" y="2468.5">INC_REVIEW_ROUTE_LEVELS</text><text x="881" y="2492.5">...</text><text x="879.5" y="2516.5">&lt; 4</text><text class="r" x="1093.5" y="2516.5">1 &gt;</text></g>
<g id="EJS_CODES"><rect class="h" x="56.5" y="1621.5" width="97" height="24"/><rect class="w" x="56.5" y="1645.5" width="97" height="24"/><rect class="f" x="56.5" y="1669.5" width="97" height="24"/><path class="l" d="M56.5,1645.5H153.5M56.5,1669.5H153.5M77.5,1669.5V1693.5M97.5,1669.5V1693.5"/><rect class="b" x="56.5" y="1621.5" width="97" height="72"/><text x="60.5" y="1637.5">EJS_CODES</text><text x="62" y="1661.5">...</text><text class="r" x="150.5" y="1685.5">1090 &gt;</text></g>
<g id="AGENCY_CODES"><rect class="h" x="300.5" y="1621.5" width="131" height="24"/><rect class="w" x="300.5" y="1645.5" width="131" height="24"/><rect class="f" x="300.5" y="1669.5" width="131" height="24"/><path class="l" d="M300.5,1645.5H431.5M300.5,1669.5H431.5M352.5,1669.5V1693.5M377.5,1669.5V1693.5"/><rect class="b" x="300.5" y="1621.5" width="131" height="72"/><text x="304.5" y="1637.5">AGENCY_CODES</text><text x="306" y="1661.5">...</text><text x="304.5" y="1685.5">&lt; 18</text><text class="r" x="428.5" y="1685.5">174 &gt;</text></g>
<text x="16" y="2565">Generated by SchemaSpy</text>
</svg>
